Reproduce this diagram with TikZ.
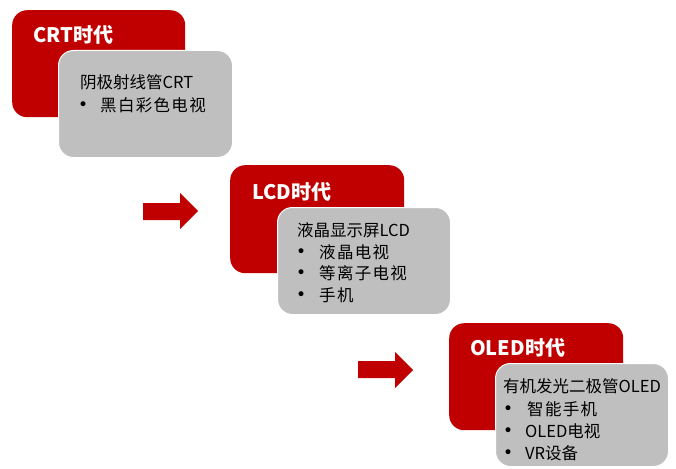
\documentclass[tikz,border=0pt]{standalone}
\usepackage{fontspec}
\setmainfont{Noto Sans CJK SC}
\newfontfamily\bulletfont{DejaVu Sans}
\newfontfamily\itemfont[LetterSpace=8]{Noto Sans CJK SC}
\definecolor{eraRed}{HTML}{C00000}
\definecolor{boxGray}{HTML}{BFBFBF}
\begin{document}
\begin{tikzpicture}[x=1pt,y=-1pt,
  redbox/.style={fill=eraRed, rounded corners=15pt, anchor=north west, inner sep=0pt},
  graybox/.style={fill=boxGray, draw=white, line width=1pt, rounded corners=15pt, anchor=north west, inner sep=0pt},
  eratitle/.style={text=white, font=\fontsize{20}{24}\selectfont\bfseries, anchor=west, inner sep=0pt},
  line/.style={text=black, font=\fontsize{16.5}{22}\selectfont, anchor=west, inner sep=0pt},
  itemline/.style={text=black, font=\itemfont\fontsize{16.5}{22}\selectfont, anchor=west, inner sep=0pt},
  dot/.style={text=black, font=\bulletfont\fontsize{17}{20}\selectfont, anchor=west, inner sep=0pt}]
\useasboundingbox (0,0) rectangle (676,468);
% CRT
\node[redbox, minimum width=173pt, minimum height=107pt] (r1) at (12,10) {};
\node[eratitle] (t1) at (33,35) {CRT时代};
\node[graybox, minimum width=174pt, minimum height=107pt] (g1) at (58,50) {};
\node[line] (g1a) at (80,82) {阴极射线管CRT};
\node[dot] (g1b) at (78,106) {•};
\node[itemline] (g1c) at (100,105) {黑白彩色电视};
% arrow 1
\fill[eraRed] (143,203) -- (180,203) -- (180,193) -- (198,211) -- (180,229) -- (180,220) -- (143,220) -- cycle;
% LCD
\node[redbox, minimum width=174pt, minimum height=108pt] (r2) at (230,165) {};
\node[eratitle] (t2) at (252,192) {LCD时代};
\node[graybox, minimum width=173pt, minimum height=107pt] (g2) at (277,207) {};
\node[line] (g2a) at (297,230) {液晶显示屏LCD};
\node[dot] (g2b) at (296,253) {•};
\node[itemline] (g2c) at (319,252) {液晶电视};
\node[dot] (g2d) at (296,274) {•};
\node[itemline] (g2e) at (319,273) {等离子电视};
\node[dot] (g2f) at (296,296) {•};
\node[itemline] (g2g) at (319,295) {手机};
% arrow 2
\fill[eraRed] (358,361) -- (395,361) -- (395,352) -- (413,370) -- (395,388) -- (395,378) -- (358,378) -- cycle;
% OLED
\node[redbox, minimum width=174pt, minimum height=107pt] (r3) at (449,323) {};
\node[eratitle] (t3) at (470,348) {OLED时代};
\node[graybox, minimum width=173pt, minimum height=103pt] (g3) at (495,363) {};
\node[line] (g3a) at (503,386) {有机发光二极管OLED};
\node[dot] (g3b) at (503,410) {•};
\node[itemline] (g3c) at (527,409) {智能手机};
\node[dot] (g3d) at (503,432) {•};
\node[line] (g3e) at (525,431) {OLED电视};
\node[dot] (g3f) at (503,454) {•};
\node[line] (g3g) at (525,453) {VR设备};
\end{tikzpicture}
\end{document}
